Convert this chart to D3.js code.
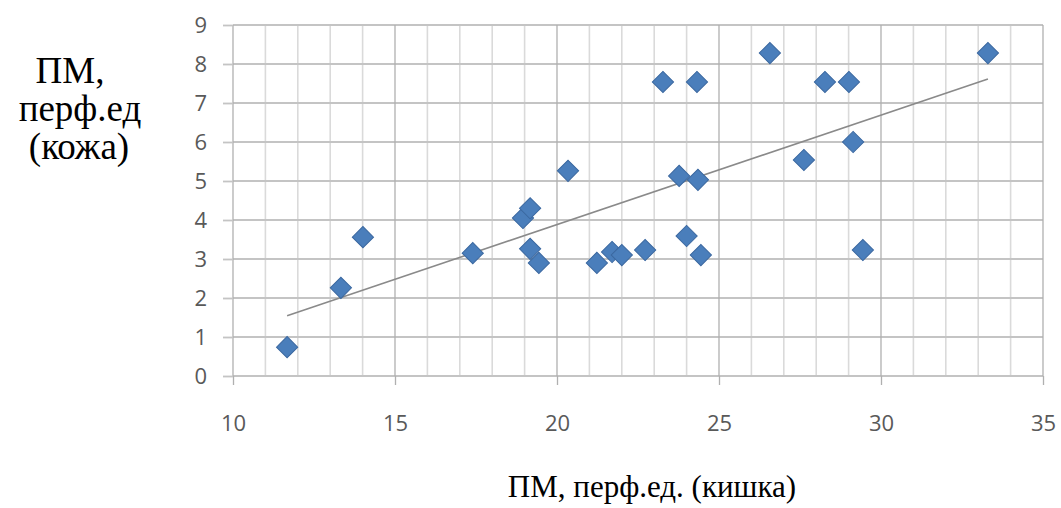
<!DOCTYPE html>
<html>
<head>
<meta charset="utf-8">
<script src="https://cdn.jsdelivr.net/npm/d3@7"></script>
<style>
  html, body { margin: 0; padding: 0; background: #fff; }
  svg { display: block; }
  .tick text { font-family: "Open Sans", sans-serif; font-size: 22px; fill: #595959; }
  .title { font-family: "Liberation Serif", "Times New Roman", serif; fill: #000; }
</style>
</head>
<body>
<svg id="chart" width="1061" height="508"></svg>
<script>
// gut perfusion (x) vs skin perfusion (y)
const gutValues = [11.67, 13.33, 14.01, 17.4, 18.95, 19.17, 19.17, 19.44, 20.34, 21.23, 21.7, 22.0, 22.72,
  23.27, 23.77, 24.0, 24.32, 24.35, 24.44, 26.57, 27.62, 28.27, 29.01, 29.14, 29.44, 33.3];
const skinValues = [0.74, 2.26, 3.56, 3.15, 4.05, 4.3, 3.26, 2.9, 5.26, 2.9, 3.18, 3.1, 3.23,
  7.54, 5.13, 3.59, 7.54, 5.03, 3.1, 8.28, 5.54, 7.54, 7.54, 6.0, 3.23, 8.28];
const xTicks = [10, 15, 20, 25, 30, 35];
const yTicks = [0, 1, 2, 3, 4, 5, 6, 7, 8, 9];
const xMinorTicks = d3.range(10, 36).filter(v => v % 5 !== 0);
const yTitleLines = ['ПМ,', 'перф.ед', '(кожа)'];
const xTitle = 'ПМ, перф.ед. (кишка)';

const padding = { top: 25, left: 233, bottom: 132, right: 18 };
const width = 1061;
const height = 508;

const svg = d3.select('#chart');
const x = d3.scaleLinear().domain([10, 35]).range([padding.left, width - padding.right]);
const y = d3.scaleLinear().domain([0, 9]).range([height - padding.bottom, padding.top]);

const points = gutValues.map((g, i) => ({ x: g, y: skinValues[i] }));

// minor vertical grid
svg.append('g')
  .selectAll('line')
  .data(xMinorTicks)
  .enter().append('line')
  .attr('x1', d => x(d)).attr('x2', d => x(d))
  .attr('y1', y(9)).attr('y2', y(0))
  .attr('stroke', '#dadada')
  .attr('stroke-width', 1.6);

// horizontal grid
svg.append('g')
  .selectAll('line')
  .data(yTicks)
  .enter().append('line')
  .attr('x1', x(10)).attr('x2', x(35))
  .attr('y1', d => y(d)).attr('y2', d => y(d))
  .attr('stroke', '#c4c4c4')
  .attr('stroke-width', 1.8);

// major vertical grid
svg.append('g')
  .selectAll('line')
  .data(xTicks)
  .enter().append('line')
  .attr('x1', d => x(d)).attr('x2', d => x(d))
  .attr('y1', y(9)).attr('y2', y(0))
  .attr('stroke', '#b0b0b0')
  .attr('stroke-width', 1.3);

const xAxis = d3.axisBottom(x).tickValues(xTicks).tickSize(9).tickPadding(30);
const yAxis = d3.axisLeft(y).tickValues(yTicks).tickSize(10).tickPadding(16);

const xAxisG = svg.append('g')
  .attr('transform', `translate(0,${y(0)})`)
  .call(xAxis);
xAxisG.select('.domain').remove();
xAxisG.selectAll('.tick line').attr('stroke', '#b0b0b0').attr('stroke-width', 1.3);

const yAxisG = svg.append('g')
  .attr('transform', `translate(${x(10)},0)`)
  .call(yAxis);
yAxisG.select('.domain').remove();
yAxisG.selectAll('.tick line').attr('stroke', '#c4c4c4').attr('stroke-width', 1.8);
yAxisG.selectAll('.tick text').attr('dy', '0.36em');

// linear trend (least squares, like the spreadsheet trendline)
const mx = d3.mean(gutValues);
const my = d3.mean(skinValues);
const slope = d3.sum(points, p => (p.x - mx) * (p.y - my)) / d3.sum(points, p => (p.x - mx) * (p.x - mx));
const intercept = my - slope * mx;
const xExtent = d3.extent(gutValues);

svg.append('line')
  .attr('x1', x(xExtent[0])).attr('y1', y(intercept + slope * xExtent[0]))
  .attr('x2', x(xExtent[1])).attr('y2', y(intercept + slope * xExtent[1]))
  .attr('stroke', '#8a8a8a')
  .attr('stroke-width', 1.6);

// markers
const diamond = d3.symbol().type(d3.symbolSquare).size(225);
svg.append('g')
  .selectAll('path')
  .data(points)
  .enter().append('path')
  .attr('d', diamond)
  .attr('transform', d => `translate(${x(d.x)},${y(d.y)}) rotate(45)`)
  .attr('fill', '#4a7ebb')
  .attr('stroke', '#3b68a0')
  .attr('stroke-width', 1);

// titles
const yTitleX = [70, 80, 79];
svg.append('g')
  .selectAll('text')
  .data(yTitleLines)
  .enter().append('text')
  .attr('class', 'title')
  .attr('x', (d, i) => yTitleX[i])
  .attr('y', (d, i) => 83 + i * 38)
  .attr('text-anchor', 'middle')
  .attr('font-size', 37)
  .text(d => d);

svg.append('text')
  .attr('class', 'title')
  .attr('x', 652)
  .attr('y', 497)
  .attr('text-anchor', 'middle')
  .attr('font-size', 31)
  .text(xTitle);
</script>
</body>
</html>
